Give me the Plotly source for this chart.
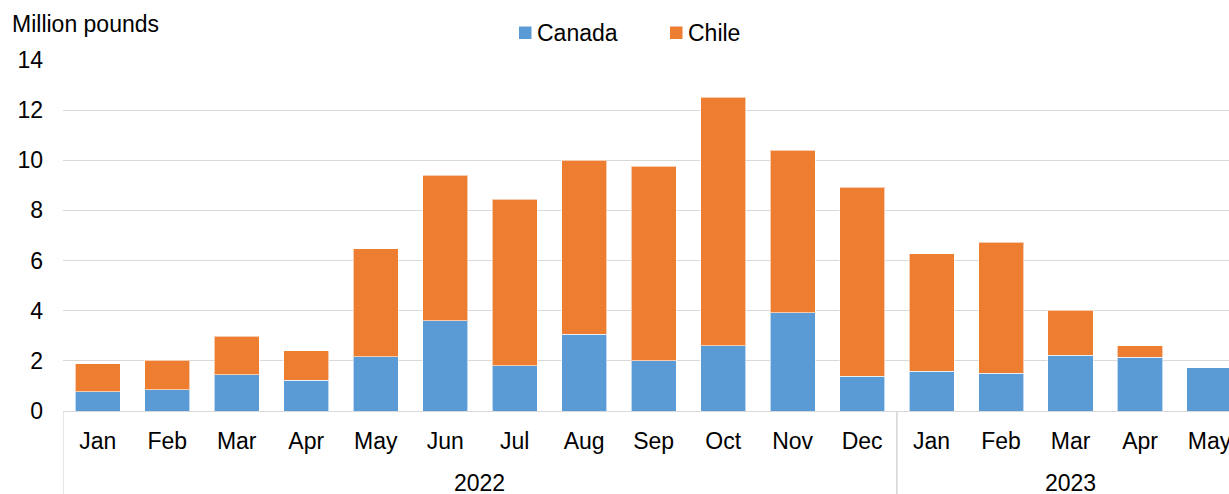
import plotly.graph_objects as go

months = ["Jan", "Feb", "Mar", "Apr", "May", "Jun", "Jul", "Aug", "Sep", "Oct", "Nov", "Dec",
          "Jan", "Feb", "Mar", "Apr", "May"]
years = ["2022"] * 12 + ["2023"] * 5
canada = [0.76, 0.84, 1.45, 1.23, 2.16, 3.59, 1.81, 3.07, 2.00, 2.60, 3.91, 1.39,
          1.59, 1.51, 2.23, 2.15, 1.72]
chile = [1.13, 1.19, 1.54, 1.18, 4.32, 5.81, 6.63, 6.93, 7.77, 9.92, 6.49, 7.54,
         4.68, 5.22, 1.78, 0.45, 0.0]
series_names = ["Canada", "Chile"]
series_colors = ["#5B9BD5", "#ED7D31"]

W, H = 1229, 494
ML, MR, MT, MB = 63, 0, 60, 83
PW, PH = W - ML - MR, H - MT - MB
FONT = "Liberation Sans, Arial, sans-serif"

x = list(range(len(months)))

fig = go.Figure()
for name, vals, col in zip(series_names, [canada, chile], series_colors):
    fig.add_bar(x=x, y=vals, name=name,
                marker=dict(color=col, line=dict(color="rgba(255,255,255,0.6)", width=1)))

fig.update_layout(
    barmode="stack", bargap=0.35,
    width=W, height=H,
    margin=dict(l=ML, r=MR, t=MT, b=MB, pad=0, autoexpand=False),
    plot_bgcolor="white", paper_bgcolor="white",
    showlegend=False,
    font=dict(family=FONT, size=23, color="#000000"),
)
fig.update_xaxes(range=[-0.5, 16.28], tickvals=x, ticktext=months, showgrid=False,
                 showline=True, linecolor="#d9d9d9", linewidth=1.3, ticks="",
                 ticklabelstandoff=9, ticklabeloverflow="allow", automargin=False,
                 tickfont=dict(size=23))
fig.update_yaxes(range=[0, 14], dtick=2, gridcolor="#d9d9d9", gridwidth=1.3,
                 zeroline=False, ticks="", showline=False, ticklabelstandoff=19,
                 automargin=False, tickfont=dict(size=23))

def px_x(p):
    return (p - ML) / PW

def px_y(p):
    return (H - MB - p) / PH

# year group labels and dividers
groups = []
for i, yv in enumerate(years):
    if not groups or groups[-1][0] != yv:
        groups.append([yv, i, i])
    else:
        groups[-1][2] = i
for yv, s, e in groups:
    fig.add_annotation(x=(s + e) / 2, xref="x", y=px_y(483), yref="paper",
                       text=yv, showarrow=False, yanchor="middle",
                       font=dict(size=23, family=FONT, color="#000000"))
    for b in (s - 0.5, e + 0.5):
        fig.add_shape(type="line", xref="x", yref="paper", x0=b, x1=b,
                      y0=0, y1=px_y(H), line=dict(color="#d9d9d9", width=1.3))

# axis title
fig.add_annotation(x=px_x(10), xref="paper", y=px_y(24), yref="paper",
                   text="Million pounds", showarrow=False, xanchor="left", yanchor="middle",
                   font=dict(size=23, family=FONT, color="#000000"))

# legend
leg_sq = [519, 670]
for name, col, sx in zip(series_names, series_colors, leg_sq):
    fig.add_shape(type="rect", xref="paper", yref="paper",
                  x0=px_x(sx), x1=px_x(sx + 12.5), y0=px_y(39), y1=px_y(26.5),
                  fillcolor=col, line=dict(width=0))
    fig.add_annotation(x=px_x(sx + 16), xref="paper", y=px_y(33), yref="paper",
                       text=name, showarrow=False, xanchor="left", yanchor="middle",
                       font=dict(size=23, family=FONT, color="#000000"))

fig.write_html("out.html")
